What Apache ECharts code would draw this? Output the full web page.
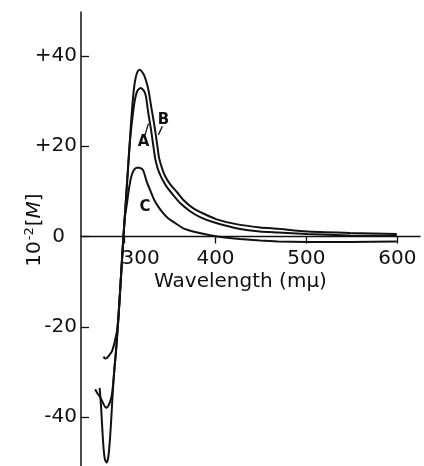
<!DOCTYPE html>
<html>
<head>
<meta charset="utf-8">
<script src="https://cdn.jsdelivr.net/npm/echarts@6/dist/echarts.min.js"></script>
<style>
  html, body { margin: 0; padding: 0; background: #fff; }
  #chart { width: 424px; height: 466px; }
</style>
</head>
<body>
<div id="chart"></div>
<script>
// 波长 (mμ) 与 10^-2 [M]，三条曲线 A、B、C
const xTicks = [300, 400, 500, 600]
const yTicks = [-40, -20, 0, 20, 40]

const curveA = [
  [267.6, -33.8], [270, -34.7], [272.2, -35.3], [274.2, -36], [276.5, -37], [278.6, -37.7],
  [280.4, -37.9], [282.3, -37.4], [284, -36.6], [285.9, -35.2], [287.3, -32.8], [288.3, -30.5],
  [289.4, -28], [290.5, -25.5], [291.6, -22.5], [293.2, -18], [295.1, -11.8], [297, -5.5],
  [298.7, 0], [300.4, 5], [302.05, 10], [303.7, 15], [305.4, 20], [307, 23.5], [308.7, 26.5],
  [310.5, 29.3], [312.5, 31.3], [314.5, 32.4], [317.8, 32.9], [321.4, 32.2], [323.6, 30.9],
  [324.7, 29.3], [326.4, 26.9], [329.1, 23.6], [331.9, 19.6], [333.5, 17.4], [336.3, 15.1],
  [340.1, 13.2], [345.6, 11.2], [353.3, 9.2], [361, 7.4], [372, 5.6], [383, 4.3], [397.3, 3.2],
  [421.4, 1.9], [448.9, 1.1], [468.7, 0.9], [500.5, 0.55], [547.8, 0.25], [599.5, 0.1]
]

const curveB = [
  [272.5, -33.5], [273.3, -35.5], [274.2, -38], [275, -41], [276, -44.5], [277, -47.3],
  [278.3, -49.3], [280, -50], [281.6, -49.3], [282.8, -47.5], [283.8, -45], [284.8, -42],
  [285.8, -38.5], [286.8, -35], [287.8, -31.8], [288.8, -29], [290, -26.5], [291.4, -23],
  [293.2, -18], [295.1, -11.8], [297, -5.5], [298.7, 0], [300.4, 5], [302.05, 10], [303.7, 15],
  [305.4, 20], [307, 25], [308.7, 29.5], [310.3, 32.8], [312, 35], [314, 36.4], [316.5, 36.9],
  [319, 36.5], [321.4, 35.7], [324.7, 33.7], [326.9, 31.7], [328.6, 29.5], [330.8, 26.9],
  [333.5, 23.6], [336.3, 19.6], [337.9, 17.4], [340.7, 15.4], [344.5, 13.4], [350, 11.6],
  [357.7, 9.8], [364.6, 8.1], [375.3, 6.3], [386.6, 5.1], [401.3, 3.8], [421.4, 2.8],
  [448.9, 2.0], [468.7, 1.7], [500.5, 1.1], [547.8, 0.8], [599.5, 0.55]
]

const curveC = [
  [276.7, -26.6], [278.5, -27], [280.4, -26.9], [282.5, -26.4], [285.9, -25.5], [288.8, -23.6],
  [290.3, -22.2], [291.8, -20.6], [293.2, -17.5], [295.1, -11.8], [297, -5.5], [298.7, 0],
  [300.3, 4.3], [302.4, 7.1], [304.5, 10.2], [306.5, 12.5], [308.5, 14], [311, 14.9],
  [313.5, 15.2], [316.3, 15.2], [320.3, 14.7], [324.4, 12.1], [328, 10.3], [331.6, 8.5],
  [335.7, 7.0], [342.6, 5.1], [348.1, 4.0], [355.5, 3.0], [364.6, 1.8], [377.5, 1.0],
  [394, 0.3], [410.4, -0.2], [426.9, -0.55], [448.9, -0.9], [468.7, -1.1], [500.5, -1.2],
  [547.8, -1.2], [599.5, -1.1]
]

const font = 'DejaVu Sans'
const ink = '#111'

// 坐标范围与网格
const yMin = -50.8
const yMax = 49.7
const gridTop = 12
const gridBottom = 0
const chartHeight = 466
// 横轴放在 y = 0 处（用 offset 代替 onZero，让刻度文字跟着轴线走）
const plotHeight = chartHeight - gridTop - gridBottom
const zeroOffset = -(plotHeight * (0 - yMin) / (yMax - yMin))

const lineSeries = (name, data, extra) => ({
  name,
  type: 'line',
  data,
  showSymbol: false,
  smooth: 0.2,
  lineStyle: { color: ink, width: 2 },
  silent: true,
  ...extra
})

// 曲线标注
const curveTag = (text, coord) => ({
  coord,
  symbolSize: 0,
  label: { show: true, position: 'inside', formatter: text, color: ink, fontSize: 15, fontWeight: 'bold', fontFamily: font }
})

const leader = (from, to) => [
  { coord: from },
  { coord: to }
]

const chart = echarts.init(document.getElementById('chart'))

chart.setOption({
  animation: false,
  backgroundColor: '#fff',
  grid: { left: 81, right: 4, top: gridTop, bottom: gridBottom, containLabel: false, outerBoundsMode: 'none' },
  xAxis: {
    type: 'value',
    min: 252,
    max: 625,
    position: 'bottom',
    offset: zeroOffset,
    name: 'Wavelength (mμ)',
    nameLocation: 'middle',
    nameGap: 35,
    nameMoveOverlap: false,
    nameTextStyle: { color: ink, fontSize: 20, fontFamily: font, padding: [0, 20, 0, 0] },
    axisLine: { onZero: false, lineStyle: { color: ink, width: 1.3 } },
    axisTick: { show: true, customValues: xTicks, length: 7, lineStyle: { color: ink, width: 1.3 } },
    axisLabel: {
      customValues: xTicks,
      margin: 12,
      color: ink,
      fontSize: 20,
      fontFamily: font,
      formatter: v => v === 300 ? '{p|300}' : String(v),
      rich: { p: { fontSize: 20, fontFamily: font, color: ink, padding: [0, 0, 0, 32] } }
    },
    splitLine: { show: false }
  },
  yAxis: {
    type: 'value',
    min: yMin,
    max: yMax,
    name: '{n|10}{s|-2}{n|[}{i|M}{n|]}',
    nameLocation: 'middle',
    nameRotate: 90,
    nameGap: 35,
    nameMoveOverlap: false,
    nameTextStyle: {
      color: ink,
      padding: [0, 0, 0, 18],
      rich: {
        n: { fontSize: 20, fontFamily: font, color: ink },
        s: { fontSize: 13, fontFamily: font, color: ink, verticalAlign: 'top', padding: [0, 1, 10, 1] },
        i: { fontSize: 20, fontFamily: font, fontStyle: 'italic', color: ink }
      }
    },
    axisLine: { show: true, onZero: false, lineStyle: { color: ink, width: 1.5 } },
    axisTick: { show: true, inside: true, customValues: yTicks, length: 8, lineStyle: { color: ink, width: 1.3 } },
    axisLabel: {
      customValues: yTicks,
      margin: 4,
      color: ink,
      fontSize: 20,
      fontFamily: font,
      formatter: v => v > 0 ? '+' + v : (v === 0 ? '{z|0}' : String(v)),
      rich: { z: { fontSize: 20, fontFamily: font, color: ink, padding: [0, 12, 0, 0] } }
    },
    splitLine: { show: false }
  },
  series: [
    lineSeries('A', curveA, {
      markPoint: { silent: true, data: [curveTag('A', [320.7, 21.0])] },
      markLine: {
        silent: true, symbol: 'none', label: { show: false },
        lineStyle: { color: ink, width: 1.3, type: 'solid' },
        data: [leader([322.5, 22.5], [326.2, 25.0])]
      }
    }),
    lineSeries('B', curveB, {
      markPoint: { silent: true, data: [curveTag('B', [342.6, 25.8])] },
      markLine: {
        silent: true, symbol: 'none', label: { show: false },
        lineStyle: { color: ink, width: 1.3, type: 'solid' },
        data: [leader([341.5, 24.4], [337.1, 22.5])]
      }
    }),
    lineSeries('C', curveC, {
      markPoint: { silent: true, data: [curveTag('C', [322.5, 6.6])] }
    })
  ]
})
</script>
</body>
</html>
